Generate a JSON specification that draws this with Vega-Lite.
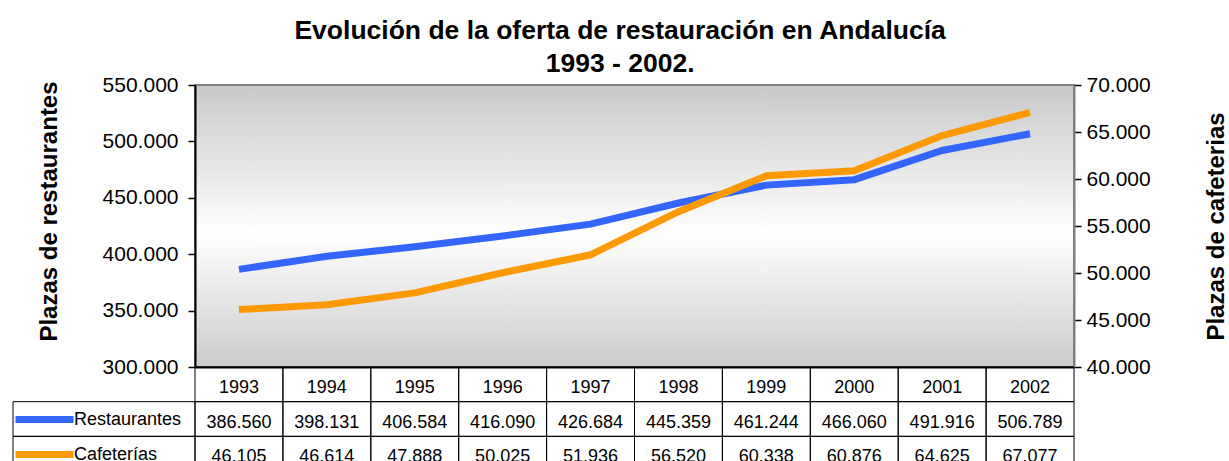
{
  "$schema": "https://vega.github.io/schema/vega-lite/v6.json",
  "padding": {"left": 11, "top": 18, "right": 0, "bottom": 0},
  "title": {
    "text": ["Evolución de la oferta de restauración en Andalucía", "1993 - 2002."],
    "fontSize": 26.5,
    "fontWeight": "bold",
    "lineHeight": 32.5,
    "color": "#000000",
    "anchor": "middle",
    "frame": "bounds",
    "offset": -4,
    "font": "Liberation Sans"
  },
  "datasets": {
    "oferta": [
      {"year": "1993", "serie": "Restaurantes", "value": 386560},
      {"year": "1994", "serie": "Restaurantes", "value": 398131},
      {"year": "1995", "serie": "Restaurantes", "value": 406584},
      {"year": "1996", "serie": "Restaurantes", "value": 416090},
      {"year": "1997", "serie": "Restaurantes", "value": 426684},
      {"year": "1998", "serie": "Restaurantes", "value": 445359},
      {"year": "1999", "serie": "Restaurantes", "value": 461244},
      {"year": "2000", "serie": "Restaurantes", "value": 466060},
      {"year": "2001", "serie": "Restaurantes", "value": 491916},
      {"year": "2002", "serie": "Restaurantes", "value": 506789},
      {"year": "1993", "serie": "Cafeterías", "value": 46105},
      {"year": "1994", "serie": "Cafeterías", "value": 46614},
      {"year": "1995", "serie": "Cafeterías", "value": 47888},
      {"year": "1996", "serie": "Cafeterías", "value": 50025},
      {"year": "1997", "serie": "Cafeterías", "value": 51936},
      {"year": "1998", "serie": "Cafeterías", "value": 56520},
      {"year": "1999", "serie": "Cafeterías", "value": 60338},
      {"year": "2000", "serie": "Cafeterías", "value": 60876},
      {"year": "2001", "serie": "Cafeterías", "value": 64625},
      {"year": "2002", "serie": "Cafeterías", "value": 67077}
    ]
  },
  "columns": 2,
  "spacing": 0,
  "bounds": "flush",
  "resolve": {
    "scale": {"x": "independent", "y": "independent", "color": "independent"},
    "legend": {"color": "independent"}
  },
  "concat": [
    {
      "width": 182,
      "height": 282,
      "data": {"values": [{"blank": ""}]},
      "mark": {"type": "text"},
      "encoding": {"text": {"field": "blank"}}
    },
    {
      "width": 879,
      "height": 282,
      "view": {
        "fill": {
          "gradient": "linear",
          "x1": 0, "y1": 0, "x2": 0, "y2": 1,
          "stops": [
            {"offset": 0, "color": "#c9c9c9"},
            {"offset": 0.53, "color": "#ffffff"},
            {"offset": 1, "color": "#cbcbcb"}
          ]
        },
        "stroke": "#808080",
        "strokeWidth": 2
      },
      "data": {"name": "oferta"},
      "encoding": {
        "x": {
          "field": "year",
          "type": "ordinal",
          "scale": {"type": "point", "padding": 0.5},
          "axis": {"labels": false, "ticks": false, "title": null, "domainColor": "#000000", "domainWidth": 2}
        },
        "color": {
          "field": "serie",
          "type": "nominal",
          "scale": {"domain": ["Restaurantes", "Cafeterías"], "range": ["#3366FF", "#FF9900"]},
          "legend": {
            "title": null,
            "orient": "none",
            "legendX": -183,
            "legendY": 317,
            "direction": "vertical",
            "symbolType": "stroke",
            "symbolSize": 3364,
            "symbolStrokeWidth": 7,
            "symbolOpacity": 1,
            "labelFontSize": 18,
            "labelFont": "Liberation Sans",
            "labelColor": "#000000",
            "labelOffset": -3,
            "labelBaseline": "middle",
            "padding": 0,
            "clipHeight": 35,
            "rowPadding": 0
          }
        }
      },
      "layer": [
        {
          "transform": [{"filter": "datum.serie === 'Restaurantes'"}],
          "mark": {"type": "line", "strokeWidth": 7},
          "encoding": {
            "y": {
              "field": "value",
              "type": "quantitative",
              "scale": {"domain": [300000, 550000], "nice": false, "zero": false},
              "axis": {
                "orient": "left",
                "title": "Plazas de restaurantes",
                "values": [300000, 350000, 400000, 450000, 500000, 550000],
                "format": ",d",
                "grid": false,
                "domainColor": "#000000",
                "domainWidth": 2,
                "tickColor": "#000000",
                "tickSize": 7,
                "tickWidth": 1.5,
                "labelFontSize": 21,
                "labelPadding": 10,
                "labelColor": "#000000",
                "titleFontSize": 24,
                "titleFontWeight": "bold",
                "titleColor": "#000000",
                "titlePadding": 41,
                "titleY": 126
              }
            }
          }
        },
        {
          "transform": [{"filter": "datum.serie === 'Cafeterías'"}],
          "mark": {"type": "line", "strokeWidth": 7},
          "encoding": {
            "y": {
              "field": "value",
              "type": "quantitative",
              "scale": {"domain": [40000, 70000], "nice": false, "zero": false},
              "axis": {
                "orient": "right",
                "title": "Plazas de cafeterias",
                "values": [40000, 45000, 50000, 55000, 60000, 65000, 70000],
                "format": ",d",
                "grid": false,
                "domainColor": "#808080",
                "domainWidth": 2,
                "tickColor": "#000000",
                "tickSize": 7,
                "tickWidth": 1.5,
                "labelFontSize": 21,
                "labelPadding": 5,
                "labelColor": "#000000",
                "titleFontSize": 24,
                "titleFontWeight": "bold",
                "titleColor": "#000000",
                "titleAngle": 270,
                "titleBaseline": "top",
                "titlePadding": 54
              }
            }
          }
        }
      ],
      "resolve": {"scale": {"y": "independent"}}
    },
    {
      "width": 182,
      "height": 104,
      "data": {"name": "oferta"},
      "transform": [{"aggregate": [{"op": "count", "as": "n"}], "groupby": ["serie"]}],
      "mark": {"type": "rect", "filled": false, "color": "#000000", "strokeWidth": 1},
      "encoding": {
        "y": {
          "field": "serie",
          "type": "nominal",
          "scale": {"domain": ["Año", "Restaurantes", "Cafeterías"], "paddingInner": 0, "paddingOuter": 0},
          "axis": null
        }
      }
    },
    {
      "width": 879,
      "height": 104,
      "data": {"name": "oferta"},
      "encoding": {
        "x": {
          "field": "year",
          "type": "ordinal",
          "scale": {"type": "band", "paddingInner": 0, "paddingOuter": 0},
          "axis": null
        }
      },
      "layer": [
        {
          "mark": {"type": "rect", "filled": false, "color": "#000000", "strokeWidth": 1},
          "encoding": {
            "y": {
              "field": "serie",
              "type": "nominal",
              "scale": {"domain": ["Año", "Restaurantes", "Cafeterías"], "paddingInner": 0, "paddingOuter": 0},
              "axis": null
            }
          }
        },
        {
          "transform": [{"filter": "datum.serie === 'Restaurantes'"}],
          "mark": {"type": "rect", "filled": false, "color": "#000000", "strokeWidth": 1},
          "encoding": {"y": {"datum": "Año", "type": "nominal"}}
        },
        {
          "transform": [{"filter": "datum.serie === 'Restaurantes'"}],
          "mark": {"type": "text", "fontSize": 18, "baseline": "middle", "dy": 3.5, "color": "#000000"},
          "encoding": {"y": {"datum": "Año", "type": "nominal"}, "text": {"field": "year"}}
        },
        {
          "mark": {"type": "text", "fontSize": 18, "baseline": "middle", "dy": 3.5, "color": "#000000"},
          "encoding": {
            "y": {"field": "serie", "type": "nominal"},
            "text": {"field": "value", "type": "quantitative", "format": ",d"}
          }
        }
      ]
    }
  ],
  "config": {
    "font": "Liberation Sans",
    "view": {"stroke": null},
    "locale": {"number": {"decimal": ",", "thousands": ".", "grouping": [3], "currency": ["", " €"]}}
  }
}
